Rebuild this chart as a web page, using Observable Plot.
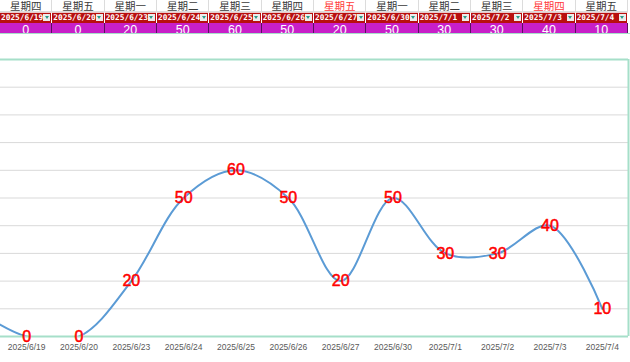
<!DOCTYPE html>
<html>
<head>
<meta charset="utf-8">
<script src="https://cdn.jsdelivr.net/npm/d3@7"></script>
<script src="https://cdn.jsdelivr.net/npm/@observablehq/plot@0.6"></script>
<style>
  html, body { margin: 0; padding: 0; background: #fff; }
  #wrap { position: relative; width: 630px; height: 362px; overflow: hidden; }
  #table { position: relative; width: 630px; height: 34px; }
  .c { position: absolute; box-sizing: border-box; overflow: hidden; text-align: center; }
  .wd { top: 0; height: 12px; font: 10.5px/12px "Noto Sans CJK SC", sans-serif; color: #3a3a3a; border-right: 1px solid #dcdcdc; border-bottom: 1px solid #dcdcdc; }
  .dt { top: 12px; height: 11px; background: #b80f0f; border-right: 1px solid #fff; border-top: 1px solid #e9c9c9; }
  .dt span { position: absolute; left: 1px; top: -1px; font: bold 7.8px/11px "DejaVu Sans Mono", monospace; color: #fff; letter-spacing: 0; white-space: nowrap; }
  .dt i { position: absolute; right: 1px; top: 1px; width: 7px; height: 7px; background: #ececec; }
  .dt i::after { content: ""; position: absolute; left: 1.5px; top: 2px; border-left: 2px solid transparent; border-right: 2px solid transparent; border-top: 3px solid #2a9a86; }
  .vl { top: 23px; height: 10px; background: #c81fc8; border-right: 1px solid #5a1060; font: 12.5px/15px "Liberation Sans", Arial, sans-serif; color: #fff; }
  #sel { position: absolute; left: 0; top: 33px; width: 630px; height: 1px; background: #a6dfc9; }
  svg { display: block; }
</style>
</head>
<body>
<div id="wrap">
  <div id="table"></div>
  <div id="chart"></div>
</div>
<script>
const weekdays = ["星期四","星期五","星期一","星期二","星期三","星期四","星期五","星期一","星期二","星期三","星期四","星期五"];
const dates = ["2025/6/19","2025/6/20","2025/6/23","2025/6/24","2025/6/25","2025/6/26","2025/6/27","2025/6/30","2025/7/1","2025/7/2","2025/7/3","2025/7/4"];
const values = [0, 0, 20, 50, 60, 50, 20, 50, 30, 30, 40, 10];
const redWeekdays = [6, 10];
// estimated value of the (clipped) point before 2025/6/19
const prevValue = 10;
const yTicks = [10, 20, 30, 40, 50, 60, 70, 80, 90];

const colW = 628 / 12;
const table = d3.select("#table");
weekdays.forEach((w, i) => {
  table.append("div").attr("class", "c wd")
    .style("left", (i * colW) + "px").style("width", colW + "px")
    .style("color", redWeekdays.includes(i) ? "#ff3b3b" : null)
    .text(w);
  const d = table.append("div").attr("class", "c dt")
    .style("left", (i * colW) + "px").style("width", colW + "px");
  d.append("span").text(dates[i]);
  d.append("i");
  table.append("div").attr("class", "c vl")
    .style("left", (i * colW) + "px").style("width", colW + "px")
    .text(values[i]);
});
table.append("div").attr("id", "sel");

const pts = values.map((v, i) => ({i, v, date: dates[i]}));
const lineData = [{i: -1, v: prevValue}, ...pts];

const chart = Plot.plot({
  width: 630,
  height: 328,
  marginTop: 25,
  marginBottom: 26,
  marginLeft: 0,
  marginRight: 2,
  style: {fontFamily: "'Liberation Sans', Arial, sans-serif", background: "#fff"},
  x: {type: "linear", domain: [-0.5, 11.5]},
  y: {domain: [0, 100], axis: null},
  marks: [
    Plot.gridY(yTicks, {stroke: "#d9d9d9", strokeOpacity: 1, strokeWidth: 1}),
    Plot.line(lineData, {x: "i", y: "v", curve: "catmull-rom", stroke: "#5b9bd5", strokeWidth: 2, clip: true}),
    Plot.ruleY([0, 100], {stroke: "#a6dfc9", strokeWidth: 2}),
    Plot.ruleX([11.5], {stroke: "#a6dfc9", strokeWidth: 2}),
    Plot.text(pts, {x: "i", y: "v", text: d => String(d.v), fill: "#ff0000", stroke: "#ff0000", strokeWidth: 0.5, fontSize: 16}),
    Plot.axisX(d3.range(12), {tickSize: 0, tickPadding: 7, tickFormat: i => dates[i], fontSize: 8.5, fill: "#595959", label: null})
  ]
});
document.getElementById("chart").appendChild(chart);
</script>
</body>
</html>
